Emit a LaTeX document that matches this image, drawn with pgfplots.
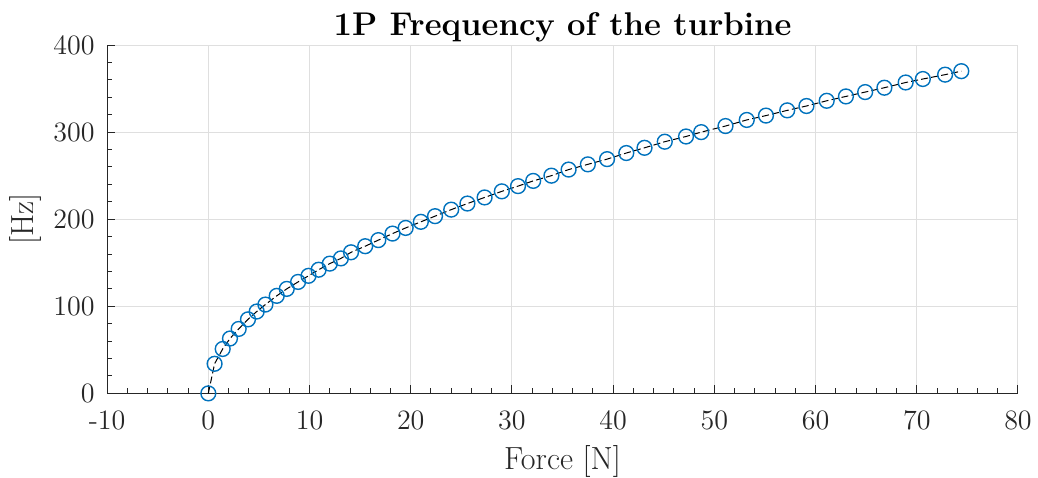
\documentclass[border=0pt]{standalone}
\usepackage{pgfplots}
\pgfplotsset{compat=1.18}
\definecolor{mblue}{RGB}{0,114,189}
\definecolor{axgray}{RGB}{38,38,38}
\definecolor{gridgray}{RGB}{223,223,223}
\begin{document}
\begin{tikzpicture}
\begin{axis}[
  scale only axis, width=455pt, height=174pt,
  xmin=-10, xmax=80, ymin=0, ymax=400,
  axis x line*=bottom, axis y line*=left,
  axis line style={axgray, line width=0.6pt, -},
  xtick={-10,0,10,20,30,40,50,60,70,80},
  xticklabels={-10,0,10,20,30,40,50,60,70,80},
  ytick={0,100,200,300,400},
  yticklabels={0,100,200,300,400},
  minor x tick num=4, minor y tick num=4,
  tick align=inside,
  major tick length=4pt, minor tick length=2.5pt,
  tick style={axgray, line width=0.5pt},
  grid=major,
  major grid style={gridgray, line width=0.5pt},
  minor grid style={draw=none},
  xticklabel style={font=\fontsize{14}{16}\selectfont, text=axgray, anchor=north, inner sep=0pt, yshift=-8.5pt},
  yticklabel style={font=\fontsize{14}{16}\selectfont, text=axgray, anchor=east, inner sep=0pt, xshift=-6pt},
  title={\textbf{1P Frequency of the turbine}},
  title style={font=\fontsize{16.4}{19}\selectfont, at={(axis description cs:0.5,1.0287)}, anchor=base, yshift=-6pt, inner sep=0pt},
  xlabel={Force [N]},
  xlabel style={font=\fontsize{16}{19}\selectfont, text=axgray, at={(axis description cs:0.5,-0.1954)}, anchor=center, inner sep=0pt},
  ylabel={[Hz]},
  ylabel style={font=\fontsize{16}{19}\selectfont, text=axgray, at={(axis description cs:-0.0901,0.5)}, anchor=center, inner sep=0pt},
]
\addplot[black, line width=0.5pt, dash pattern=on 3.5pt off 1.6pt,
  mark=o, mark size=3.7pt,
  mark options={solid, draw=mblue, line width=0.7pt, fill=none}]
coordinates {
(0,0) (0.62,34) (1.42,51) (2.14,63) (3.0,74) (3.92,85) (4.78,94) (5.64,102)
(6.76,112) (7.75,120) (8.87,128) (9.9,135) (10.9,142) (12.0,149) (13.1,155)
(14.1,162) (15.5,169) (16.8,176) (18.2,183.5) (19.5,190) (21.0,197) (22.4,203.5)
(24.0,211) (25.6,218) (27.3,225) (29.0,232) (30.6,238) (32.1,244) (33.9,250)
(35.6,257) (37.5,263) (39.4,269) (41.3,276) (43.1,282) (45.1,289) (47.2,295)
(48.7,300) (51.1,307) (53.2,314) (55.1,319) (57.2,325) (59.1,330) (61.1,336)
(63.0,341) (64.9,346) (66.8,351) (68.9,357) (70.6,361) (72.8,366) (74.4,370)
};
\end{axis}
\path ([shift={(-53.5pt,-42pt)}]current axis.south west) rectangle ([shift={(10pt,22.5pt)}]current axis.north east);
\end{tikzpicture}
\end{document}
